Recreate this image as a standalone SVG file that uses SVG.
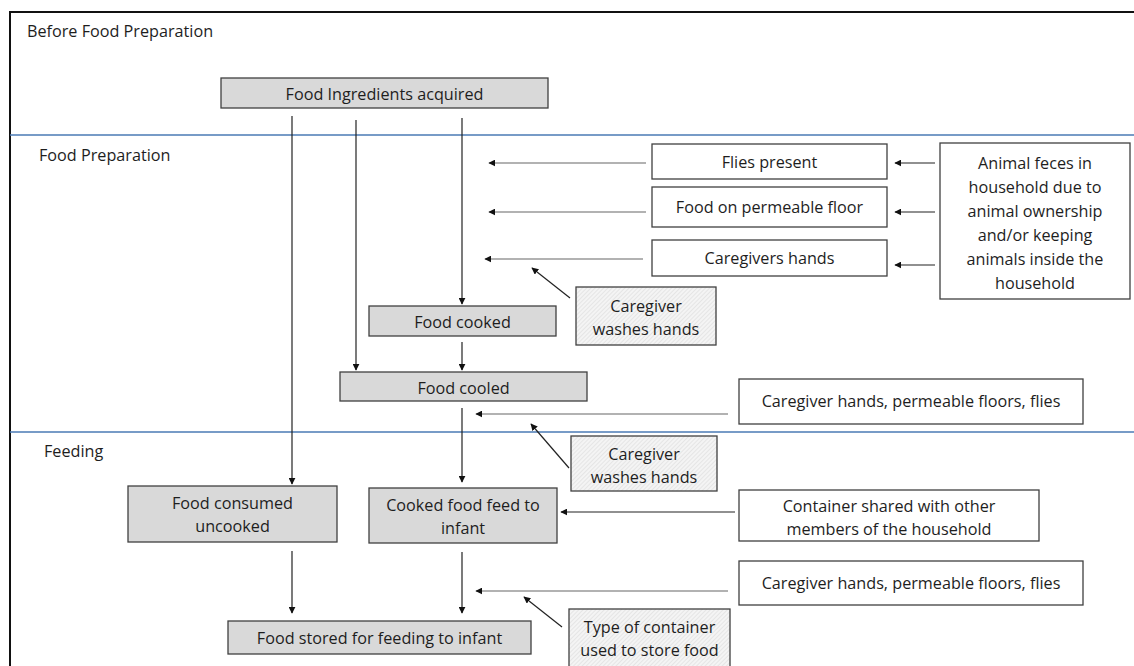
<svg xmlns="http://www.w3.org/2000/svg" width="1134" height="666" viewBox="0 0 1134 666">
<style>
text{font-family:"Open Sans","Liberation Sans",sans-serif;font-size:16.2px;fill:#1e1e1e;text-anchor:middle}
.lbl{text-anchor:start}
.g{fill:#d9d9d9;stroke:#404040;stroke-width:1.3}
.w{fill:#fff;stroke:#404040;stroke-width:1.3}
.h{fill:url(#hatch);stroke:#404040;stroke-width:1.3}
.c{stroke:#222;stroke-width:1.2;fill:none;marker-end:url(#ah)}
.c2{stroke:#666;stroke-width:1.2;fill:none;marker-end:url(#ah)}
.sep{stroke:#4a7ab5;stroke-width:1.5}
</style>
<defs>
<marker id="ah" viewBox="0 0 10 10" refX="9" refY="5" markerWidth="7" markerHeight="7" orient="auto" markerUnits="userSpaceOnUse"><path d="M0,0 L10,5 L0,10 z" fill="#111"/></marker>
<pattern id="hatch" width="3" height="3" patternUnits="userSpaceOnUse" patternTransform="rotate(45)"><rect width="3" height="3" fill="#f4f4f4"/><line x1="0" y1="0" x2="0" y2="3" stroke="#d6d6d6" stroke-width="1"/></pattern>
</defs>
<rect x="0" y="0" width="1134" height="666" fill="#fff"/>
<rect x="10" y="12" width="1140" height="670" fill="none" stroke="#111" stroke-width="2"/>
<line class="sep" x1="10" y1="135" x2="1134" y2="135"/>
<line class="sep" x1="10" y1="432" x2="1134" y2="432"/>
<text class="lbl" x="27" y="37">Before Food Preparation</text>
<text class="lbl" x="39" y="161">Food Preparation</text>
<text class="lbl" x="44" y="457">Feeding</text>

<g id="connectors">
<line class="c" x1="292" y1="116" x2="292" y2="484"/>
<line class="c" x1="356" y1="120" x2="356" y2="370"/>
<line class="c" x1="462" y1="118" x2="462" y2="304"/>
<line class="c" x1="462" y1="342" x2="462" y2="370"/>
<line class="c" x1="462" y1="408" x2="462" y2="482"/>
<line class="c" x1="292" y1="551" x2="292" y2="613"/>
<line class="c" x1="462" y1="552" x2="462" y2="613"/>
<line class="c2" x1="646" y1="163" x2="489" y2="163"/>
<line class="c2" x1="646" y1="212" x2="489" y2="212"/>
<line class="c2" x1="643" y1="259" x2="485" y2="259"/>
<line class="c" x1="935" y1="163" x2="895" y2="163"/>
<line class="c" x1="935" y1="212" x2="895" y2="212"/>
<line class="c" x1="935" y1="265" x2="895" y2="265"/>
<line class="c" x1="570" y1="298" x2="532" y2="268"/>
<line class="c2" x1="728" y1="414" x2="476" y2="414"/>
<line class="c" x1="569" y1="468" x2="531" y2="424"/>
<line class="c" x1="735" y1="512" x2="561" y2="512"/>
<line class="c2" x1="728" y1="591" x2="476" y2="591"/>
<line class="c" x1="562" y1="627" x2="524" y2="597"/>
</g>

<g id="n-ingredients"><rect class="g" x="221" y="78" width="327" height="30"/><text x="384.5" y="100">Food Ingredients acquired</text></g>
<g id="n-flies"><rect class="w" x="652" y="144" width="235" height="35"/><text x="769.5" y="168">Flies present</text></g>
<g id="n-floor"><rect class="w" x="652" y="187" width="235" height="40"/><text x="769.5" y="213">Food on permeable floor</text></g>
<g id="n-hands"><rect class="w" x="652" y="240" width="235" height="36"/><text x="769.5" y="264">Caregivers hands</text></g>
<g id="n-feces"><rect class="w" x="940" y="143" width="190" height="156"/>
<text x="1035" y="169">Animal feces in</text>
<text x="1035" y="193">household due to</text>
<text x="1035" y="217">animal ownership</text>
<text x="1035" y="241">and/or keeping</text>
<text x="1035" y="265">animals inside the</text>
<text x="1035" y="289">household</text></g>
<g id="n-wash1"><rect class="h" x="576" y="287" width="140" height="58"/><text x="646" y="312">Caregiver</text><text x="646" y="335">washes hands</text></g>
<g id="n-cooked"><rect class="g" x="369" y="306" width="187" height="30"/><text x="462.5" y="328">Food cooked</text></g>
<g id="n-cooled"><rect class="g" x="340" y="372" width="247" height="29"/><text x="463.5" y="394">Food cooled</text></g>
<g id="n-chpf1"><rect class="w" x="739" y="379" width="344" height="45"/><text x="911" y="407">Caregiver hands, permeable floors, flies</text></g>
<g id="n-wash2"><rect class="h" x="571" y="436" width="146" height="55"/><text x="644" y="460">Caregiver</text><text x="644" y="483">washes hands</text></g>
<g id="n-uncooked"><rect class="g" x="128" y="486" width="209" height="56"/><text x="232.5" y="509">Food consumed</text><text x="232.5" y="532">uncooked</text></g>
<g id="n-feed"><rect class="g" x="369" y="488" width="188" height="55"/><text x="463" y="511">Cooked food feed to</text><text x="463" y="534">infant</text></g>
<g id="n-container"><rect class="w" x="739" y="490" width="300" height="51"/><text x="889" y="512">Container shared with other</text><text x="889" y="535">members of the household</text></g>
<g id="n-chpf2"><rect class="w" x="739" y="561" width="344" height="44"/><text x="911" y="589">Caregiver hands, permeable floors, flies</text></g>
<g id="n-stored"><rect class="g" x="228" y="621" width="303" height="33"/><text x="379.5" y="644">Food stored for feeding to infant</text></g>
<g id="n-type"><rect class="h" x="569" y="609" width="161" height="60"/><text x="649.5" y="633">Type of container</text><text x="649.5" y="656">used to store food</text></g>
</svg>
